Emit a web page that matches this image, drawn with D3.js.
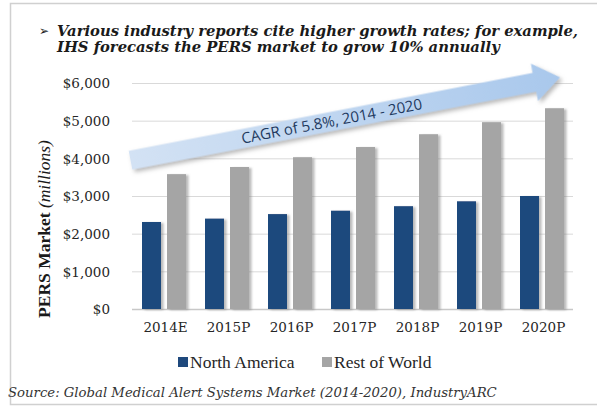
<!DOCTYPE html>
<html>
<head>
<meta charset="utf-8">
<script src="https://cdn.jsdelivr.net/npm/d3@7"></script>
<style>
  html, body { margin: 0; padding: 0; background: #fff; }
  svg { display: block; }
</style>
</head>
<body>
<svg id="chart" width="597" height="407"></svg>
<script>
// PERS market size by region, $ millions
const categories = ["2014E", "2015P", "2016P", "2017P", "2018P", "2019P", "2020P"];
const northAmerica = [2310, 2400, 2520, 2610, 2730, 2860, 3000];
const restOfWorld = [3580, 3770, 4030, 4300, 4640, 4960, 5330];
const seriesNames = ["North America", "Rest of World"];
const yTicks = [0, 1000, 2000, 3000, 4000, 5000, 6000];
const cagrLabel = "CAGR of 5.8%, 2014 - 2020";
const titleLines = [
  "Various industry reports cite higher growth rates; for example,",
  "IHS forecasts the PERS market to grow 10% annually"
];
const sourceText = "Source: Global Medical Alert Systems Market (2014-2020), IndustryARC";

const colors = { na: "#1f497d", row: "#a5a5a5", grid: "#d9d9d9", text: "#262626" };

const svg = d3.select("#chart");

// helper: size a text element so it spans a given width
function fitWidth(sel, width) {
  const node = sel.node();
  const fs = parseFloat(sel.attr("font-size"));
  const w = node.getComputedTextLength();
  sel.attr("font-size", (fs * width / w).toFixed(2));
  return sel;
}

const defs = svg.append("defs");
const barShadow = defs.append("filter").attr("id", "barShadow")
  .attr("x", "-20%").attr("y", "-5%").attr("width", "160%").attr("height", "115%");
barShadow.append("feDropShadow").attr("dx", 2.5).attr("dy", 1).attr("stdDeviation", 1)
  .attr("flood-color", "#7f7f7f").attr("flood-opacity", 0.55);

const arrowShadow = defs.append("filter").attr("id", "arrowShadow")
  .attr("x", "-5%").attr("y", "-30%").attr("width", "110%").attr("height", "170%");
arrowShadow.append("feDropShadow").attr("dx", 2).attr("dy", 3).attr("stdDeviation", 2)
  .attr("flood-color", "#8a8a8a").attr("flood-opacity", 0.6);

const grad = defs.append("linearGradient").attr("id", "arrowFill")
  .attr("x1", "0%").attr("y1", "0%").attr("x2", "100%").attr("y2", "0%");
grad.append("stop").attr("offset", "0%").attr("stop-color", "#d3e2f4");
grad.append("stop").attr("offset", "100%").attr("stop-color", "#a9c8ec");

// frame
svg.append("path")
  .attr("d", "M597,3.5 H10.5 V404.5 H597")
  .attr("fill", "none").attr("stroke", "#d0d0d0").attr("stroke-width", 1.5);

// title
svg.append("text").attr("x", 39).attr("y", 35)
  .attr("font-family", "DejaVu Sans").attr("font-size", 12).attr("fill", "#222")
  .text("\u27A2");
const t1 = svg.append("text").attr("x", 57).attr("y", 36)
  .attr("font-family", "DejaVu Serif").attr("font-weight", "bold").attr("font-style", "italic")
  .attr("font-size", 14).attr("fill", "#1a1a1a").text(titleLines[0]);
fitWidth(t1, 521);
svg.append("text").attr("x", 57).attr("y", 52)
  .attr("font-family", "DejaVu Serif").attr("font-weight", "bold").attr("font-style", "italic")
  .attr("font-size", t1.attr("font-size")).attr("fill", "#1a1a1a").text(titleLines[1]);

// scales
const x = d3.scaleBand().domain(categories).range([132, 573]).paddingInner(0).paddingOuter(0);
const y = d3.scaleLinear().domain([0, 6000]).range([309, 83]);
const inner = d3.scaleBand().domain(seriesNames).range([10, x.bandwidth() - 9]).paddingInner(0.24);

// gridlines
svg.append("g").selectAll("line").data(yTicks).join("line")
  .attr("x1", x.range()[0]).attr("x2", x.range()[1])
  .attr("y1", d => y(d) + 0.5).attr("y2", d => y(d) + 0.5)
  .attr("stroke", d => d === 0 ? "#c8c8c8" : colors.grid).attr("stroke-width", d => d === 0 ? 1.5 : 1);

// y axis labels
const yAxis = d3.axisLeft(y).tickValues(yTicks).tickSize(0).tickPadding(0)
  .tickFormat(d => "$" + d3.format(",")(d));
const yg = svg.append("g").attr("transform", "translate(110,0)").call(yAxis);
yg.select(".domain").remove();
yg.selectAll("text").attr("font-family", "DejaVu Serif").attr("font-size", 13.5)
  .attr("fill", colors.text).attr("dy", "0.36em");

// x axis labels
const xAxis = d3.axisBottom(x).tickSize(0).tickPadding(0);
const xg = svg.append("g").attr("transform", "translate(2,322)").call(xAxis);
xg.select(".domain").remove();
xg.selectAll("text").attr("font-family", "DejaVu Serif").attr("font-size", 13.5)
  .attr("fill", colors.text);

// bars
const rows = categories.map((c, i) => ({ cat: c, values: [
  { key: seriesNames[0], v: northAmerica[i], color: colors.na },
  { key: seriesNames[1], v: restOfWorld[i], color: colors.row }
]}));
const groups = svg.append("g").selectAll("g").data(rows).join("g")
  .attr("transform", d => `translate(${x(d.cat)},0)`);
groups.selectAll("rect").data(d => d.values).join("rect")
  .attr("x", d => inner(d.key))
  .attr("width", inner.bandwidth())
  .attr("y", d => y(d.v))
  .attr("height", d => y(0) - y(d.v))
  .attr("fill", d => d.color)
  .attr("filter", "url(#barShadow)");

// growth arrow
const start = [x.range()[0] - 1.5, y(3950)];
const tip = [x(categories[6]) + x.bandwidth() - 13, y(6150)];
const dxA = tip[0] - start[0], dyA = tip[1] - start[1];
const len = Math.hypot(dxA, dyA);
const ang = Math.atan2(dyA, dxA) * 180 / Math.PI;
const half = 9.5, headHalf = 19, headLen = 26;
const arrowPts = [
  [0, -half], [len - headLen, -half], [len - headLen, -headHalf], [len, 0],
  [len - headLen, headHalf], [len - headLen, half], [0, half]
];
const arrowG = svg.append("g")
  .attr("transform", `translate(${start[0]},${start[1]}) rotate(${ang})`);
arrowG.append("path")
  .attr("d", d3.line()(arrowPts) + "Z")
  .attr("fill", "url(#arrowFill)")
  .attr("filter", "url(#arrowShadow)");
const cagr = arrowG.append("text")
  .attr("x", 205).attr("y", 5)
  .attr("text-anchor", "middle")
  .attr("font-family", "Open Sans").attr("font-size", 13)
  .attr("fill", "#1f3a60").text(cagrLabel);
fitWidth(cagr, 184);

// y axis title
const yTitle = svg.append("text")
  .attr("transform", "translate(50,229) rotate(-90)")
  .attr("text-anchor", "middle")
  .attr("font-family", "Liberation Serif").attr("font-size", 16).attr("fill", "#1a1a1a");
yTitle.append("tspan").attr("font-weight", "bold").text("PERS Market ");
yTitle.append("tspan").attr("font-style", "italic").text("(millions)");
fitWidth(yTitle, 178);

// legend
const legendItems = [
  { name: seriesNames[0], color: colors.na, x: 178 },
  { name: seriesNames[1], color: colors.row, x: 322 }
];
const lg = svg.append("g").selectAll("g").data(legendItems).join("g")
  .attr("transform", d => `translate(${d.x},357)`);
lg.append("rect").attr("width", 10).attr("height", 10).attr("fill", d => d.color);
lg.append("text").attr("x", 12).attr("y", 10.5)
  .attr("font-family", "Liberation Serif").attr("font-size", 17.5)
  .attr("fill", colors.text).text(d => d.name);

// source note
const src = svg.append("text").attr("x", 8).attr("y", 397)
  .attr("font-family", "DejaVu Serif").attr("font-style", "italic")
  .attr("font-size", 12.5).attr("fill", "#333").text(sourceText);
fitWidth(src, 489);
</script>
</body>
</html>
